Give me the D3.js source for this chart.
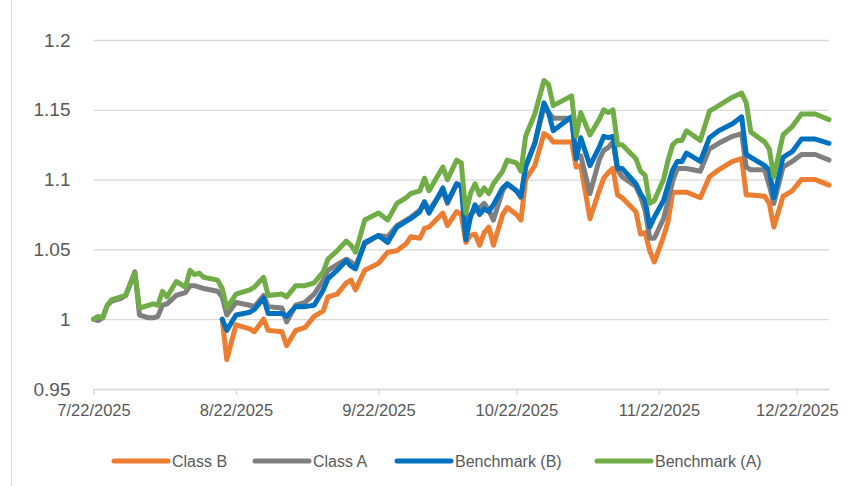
<!DOCTYPE html>
<html lang="en">
<head>
<meta charset="utf-8">
<title>Class A / Class B vs Benchmark</title>
<script src="https://d3js.org/d3.v7.min.js"></script>
<style>
  body { margin: 0; background: #fff; }
  text { font-family: "Liberation Sans", Arial, sans-serif; fill: #595959; }
</style>
</head>
<body>
<script>
// dates of the plotted points
var dates = [
  "2025-07-22","2025-07-23","2025-07-24","2025-07-25","2025-07-26","2025-07-28","2025-07-29","2025-07-31","2025-08-01","2025-08-03",
  "2025-08-04","2025-08-05","2025-08-06","2025-08-07","2025-08-09","2025-08-11","2025-08-12","2025-08-13","2025-08-14","2025-08-15",
  "2025-08-18","2025-08-19","2025-08-20","2025-08-22","2025-08-25","2025-08-26","2025-08-28","2025-08-29","2025-09-01","2025-09-02",
  "2025-09-04","2025-09-06","2025-09-08","2025-09-10","2025-09-11","2025-09-13","2025-09-15","2025-09-16","2025-09-17","2025-09-19",
  "2025-09-22","2025-09-24","2025-09-26","2025-09-28","2025-09-29","2025-10-01","2025-10-02","2025-10-03","2025-10-06","2025-10-07",
  "2025-10-09","2025-10-10","2025-10-11","2025-10-12","2025-10-13","2025-10-14","2025-10-15","2025-10-16","2025-10-17","2025-10-19",
  "2025-10-20","2025-10-22","2025-10-23","2025-10-24","2025-10-26","2025-10-28","2025-10-29","2025-10-30","2025-11-03","2025-11-04",
  "2025-11-05","2025-11-07","2025-11-09","2025-11-10","2025-11-11","2025-11-12","2025-11-13","2025-11-14","2025-11-17","2025-11-18",
  "2025-11-19","2025-11-20","2025-11-21","2025-11-23","2025-11-24","2025-11-25","2025-11-26","2025-11-27","2025-11-28","2025-12-01",
  "2025-12-03","2025-12-05","2025-12-08","2025-12-10","2025-12-11","2025-12-12","2025-12-15","2025-12-16","2025-12-17","2025-12-19",
  "2025-12-21","2025-12-23","2025-12-26","2025-12-29"
];

var n21 = [null,null,null,null,null,null,null,null,null,null,null,null,null,null,null,null,null,null,null,null,null];

var classB = n21.concat([
  1.000,0.971,0.996,0.993,0.991,1.000,0.992,0.991,0.981,0.992,0.994,1.002,1.006,1.016,1.018,1.026,1.028,1.021,1.035,1.040,
  1.048,1.049,1.054,1.059,1.058,1.065,1.066,1.076,1.067,1.077,1.075,1.055,1.060,1.061,1.053,
  1.062,1.066,1.053,1.075,1.080,1.075,1.071,1.100,1.110,1.133,1.131,1.127,1.127,1.109,1.110,1.072,1.092,1.101,1.105,1.108,
  1.089,1.087,1.077,1.061,1.062,
  1.049,1.041,1.059,1.070,1.091,1.091,1.091,1.091,1.087,1.102,1.107,1.113,1.115,1.089,1.089,1.088,1.083,1.066,1.088,1.092,
  1.100,1.100,1.096
]);

var classA = [
  1.000,0.999,1.001,1.010,1.013,1.015,1.017,1.034,1.003,1.001,1.001,1.002,1.010,1.011,1.017,1.019,1.024,1.024,1.023,1.022,1.020,
  1.016,1.003,1.012,1.010,1.009,1.017,1.009,1.008,0.998,1.010,1.012,1.018,1.028,1.035,1.039,1.043,1.041,1.038,1.054,1.060,
  1.059,1.067,1.071,1.073,1.078,1.084,1.078,1.092,1.083,1.097,1.096,1.072,1.075,1.078,1.080,
  1.083,1.078,1.071,1.092,1.097,1.092,1.087,1.110,1.126,1.152,1.148,1.144,1.144,1.115,1.117,1.090,1.114,1.121,1.123,1.127,
  1.107,1.102,1.095,1.088,1.078,
  1.058,1.058,1.072,1.085,1.099,1.108,1.108,1.108,1.106,1.122,1.126,1.131,1.133,1.109,1.107,1.107,1.096,1.083,1.109,1.113,
  1.118,1.118,1.114
];

var benchB = n21.concat([
  1.000,0.992,1.003,1.005,1.007,1.015,1.004,1.004,1.002,1.009,1.009,1.010,1.021,1.029,1.035,1.042,1.038,1.036,1.055,1.060,
  1.055,1.066,1.070,1.072,1.077,1.084,1.076,1.094,1.084,1.097,1.095,1.057,1.073,1.082,1.075,
  1.079,1.077,1.082,1.094,1.097,1.092,1.088,1.109,1.126,1.155,1.148,1.135,1.145,1.115,1.130,1.110,1.123,1.131,1.130,1.131,
  1.108,1.108,1.097,1.090,1.085,
  1.066,1.073,1.085,1.096,1.107,1.113,1.113,1.119,1.113,1.130,1.135,1.140,1.145,1.118,1.116,1.110,1.107,1.087,1.116,1.120,
  1.129,1.129,1.126
]);

var benchA = [
  1.000,1.002,1.001,1.010,1.014,1.016,1.017,1.033,1.008,1.010,1.011,1.010,1.020,1.016,1.027,1.023,1.035,1.032,1.033,1.030,1.028,
  1.022,1.008,1.018,1.021,1.023,1.030,1.017,1.018,1.016,1.024,1.024,1.026,1.034,1.043,1.049,1.056,1.053,1.048,1.071,1.076,
  1.071,1.083,1.087,1.090,1.092,1.101,1.092,1.109,1.100,1.114,1.112,1.076,1.090,1.097,1.089,
  1.094,1.090,1.097,1.106,1.114,1.112,1.106,1.131,1.147,1.171,1.168,1.153,1.160,1.131,1.148,1.132,1.143,1.150,1.148,1.150,
  1.125,1.125,1.115,1.106,1.103,
  1.083,1.085,1.100,1.114,1.125,1.128,1.128,1.135,1.128,1.149,1.153,1.159,1.162,1.155,1.134,1.127,1.122,1.102,1.132,1.138,
  1.147,1.147,1.143
];

var seriesNames = ["Class B", "Class A", "Benchmark (B)", "Benchmark (A)"];
var seriesColors = ["#ED7D31", "#7F7F7F", "#0070C0", "#70AD47"];
var seriesValues = [classB, classA, benchB, benchA];

var xTickDates = ["2025-07-22","2025-08-22","2025-09-22","2025-10-22","2025-11-22","2025-12-22"];
var yTicks = [0.95, 1.0, 1.05, 1.1, 1.15, 1.2];

var width = 848, height = 486;
var margin = { left: 93.5, right: 19, top: 40, bottom: 97 };
var parse = d3.timeParse("%Y-%m-%d");

var svg = d3.select("body").append("svg")
  .attr("width", width)
  .attr("height", height);

svg.append("rect").attr("width", width).attr("height", height).attr("fill", "#fff");

// chart border on the left
svg.append("line")
  .attr("x1", 11.5).attr("x2", 11.5)
  .attr("y1", 0).attr("y2", height)
  .attr("stroke", "#D9D9D9").attr("stroke-width", 1);

var x = d3.scaleTime()
  .domain([parse(dates[0]), parse(dates[dates.length - 1])])
  .range([margin.left, width - margin.right]);

var y = d3.scaleLinear()
  .domain([0.95, 1.2])
  .range([height - margin.bottom, margin.top]);

// gridlines + y labels
var yAxis = svg.append("g")
  .attr("transform", "translate(" + margin.left + ",0)")
  .call(d3.axisLeft(y)
    .tickValues(yTicks)
    .tickSize(-(width - margin.right - margin.left))
    .tickPadding(23)
    .tickFormat(function (d) { return +d.toFixed(2); }));
yAxis.select(".domain").remove();
yAxis.selectAll(".tick line").attr("stroke", "#D9D9D9").attr("stroke-width", 1.3);
yAxis.selectAll(".tick text").style("font-size", "19px").attr("fill", "#595959");

// x axis
var xAxis = svg.append("g")
  .attr("transform", "translate(0," + y(0.95) + ")")
  .call(d3.axisBottom(x)
    .tickValues(xTickDates.map(parse))
    .tickSize(6)
    .tickSizeOuter(0)
    .tickPadding(9)
    .tickFormat(d3.timeFormat("%-m/%-d/%Y")));
xAxis.select(".domain").attr("stroke", "#D9D9D9").attr("stroke-width", 1.3);
xAxis.selectAll(".tick line").attr("stroke", "#D9D9D9").attr("stroke-width", 1.3);
xAxis.selectAll(".tick text").style("font-size", "16.5px").attr("fill", "#595959");

// lines
var line = d3.line()
  .defined(function (d) { return d.v != null; })
  .x(function (d) { return x(d.date); })
  .y(function (d) { return y(d.v); });

seriesValues.forEach(function (vals, i) {
  var pts = dates.map(function (d, j) { return { date: parse(d), v: vals[j] }; });
  svg.append("path")
    .datum(pts)
    .attr("fill", "none")
    .attr("stroke", seriesColors[i])
    .attr("stroke-width", 5)
    .attr("stroke-linejoin", "round")
    .attr("stroke-linecap", "round")
    .attr("d", line);
});

// legend
var legendX = [114, 255, 397, 597];
var legend = svg.append("g");
seriesNames.forEach(function (name, i) {
  var g = legend.append("g").attr("transform", "translate(" + legendX[i] + ",461)");
  g.append("line")
    .attr("x1", 0).attr("x2", 54)
    .attr("stroke", seriesColors[i])
    .attr("stroke-width", 5)
    .attr("stroke-linecap", "round");
  g.append("text")
    .attr("x", 58).attr("dy", "0.35em")
    .style("font-size", "16px")
    .text(name);
});
</script>
</body>
</html>
